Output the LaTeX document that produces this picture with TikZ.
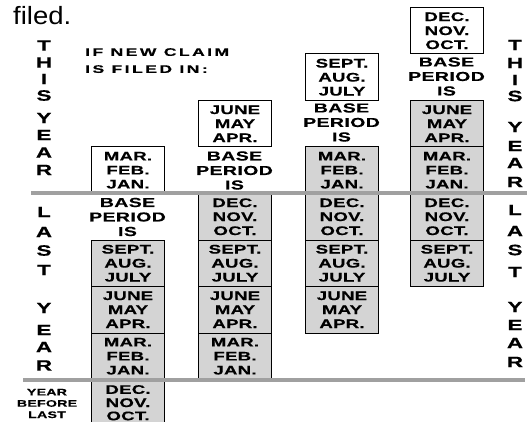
\documentclass[tikz,border=0pt]{standalone}
\usepackage{fontspec}
\setmainfont{Liberation Sans}
\newfontfamily\bxfont{Liberation Sans}[FakeStretch=1.5,LetterSpace=2,FakeBold=0.4]
\newfontfamily\basefont{Liberation Sans}[FakeStretch=1.5,LetterSpace=3,FakeBold=0.4]
\newfontfamily\iffont{Liberation Sans}[FakeStretch=1.6,LetterSpace=22,FakeBold=0.4]
\newfontfamily\topfont{Liberation Sans}[FakeStretch=1.1]
\definecolor{rulegray}{HTML}{A0A0A0}
\definecolor{cellgray}{HTML}{D4D4D4}
\begin{document}
\begin{tikzpicture}[x=1pt,y=-1pt,
  cellbase/.style={draw=black, line width=1pt, minimum width=73pt, minimum height=46.5pt,
    inner sep=0pt, align=center, anchor=north west,
    font=\bxfont\bfseries\fontsize{12.4}{14}\selectfont},
  openbox/.style={cellbase, fill=white},
  shadebox/.style={cellbase, fill=cellgray},
  baselabel/.style={inner sep=0pt, align=center, font=\basefont\bfseries\fontsize{13}{14.5}\selectfont},
  vletter/.style={inner sep=0pt, font=\bxfont\bfseries\fontsize{15}{15}\selectfont},
  rulestyle/.style={draw=rulegray, line width=4pt}]
\useasboundingbox (0,0) rectangle (530,422);
% title fragment
\node[anchor=base west, inner sep=0pt, font=\topfont\fontsize{25}{25}\selectfont] (filed) at (13,25) {filed.};
\node[anchor=north west, inner sep=0pt, align=left, font=\iffont\bfseries\fontsize{11}{17}\selectfont] (ifnew) at (85,48) {IF NEW CLAIM\\IS FILED IN:};
% column 1
\node[openbox] (c1w) at (91,146.5) {MAR.\\FEB.\\JAN.};
\node[baselabel] (c1b) at (127.5,217) {BASE\\PERIOD\\IS};
\node[shadebox] (c1g1) at (91,239.5) {SEPT.\\AUG.\\JULY};
\node[shadebox] (c1g2) at (91,286) {JUNE\\MAY\\APR.};
\node[shadebox] (c1g3) at (91,332.5) {MAR.\\FEB.\\JAN.};
\node[shadebox, font=\bxfont\bfseries\fontsize{12.4}{13.2}\selectfont] (c1g4) at (91,379) {DEC.\\NOV.\\OCT.};
% column 2
\node[openbox] (c2w) at (198,100) {JUNE\\MAY\\APR.};
\node[baselabel] (c2b) at (234.5,170.5) {BASE\\PERIOD\\IS};
\node[shadebox] (c2g1) at (198,193) {DEC.\\NOV.\\OCT.};
\node[shadebox] (c2g2) at (198,239.5) {SEPT.\\AUG.\\JULY};
\node[shadebox] (c2g3) at (198,286) {JUNE\\MAY\\APR.};
\node[shadebox] (c2g4) at (198,332.5) {MAR.\\FEB.\\JAN.};
% column 3
\node[openbox] (c3w) at (305,53.5) {SEPT.\\AUG.\\JULY};
\node[baselabel] (c3b) at (341.5,122.5) {BASE\\PERIOD\\IS};
\node[shadebox] (c3g1) at (305,146.5) {MAR.\\FEB.\\JAN.};
\node[shadebox] (c3g2) at (305,193) {DEC.\\NOV.\\OCT.};
\node[shadebox] (c3g3) at (305,239.5) {SEPT.\\AUG.\\JULY};
\node[shadebox] (c3g4) at (305,286) {JUNE\\MAY\\APR.};
% column 4
\node[openbox] (c4w) at (410,7) {DEC.\\NOV.\\OCT.};
\node[baselabel] (c4b) at (446.5,76.5) {BASE\\PERIOD\\IS};
\node[shadebox] (c4g1) at (410,100) {JUNE\\MAY\\APR.};
\node[shadebox] (c4g2) at (410,146.5) {MAR.\\FEB.\\JAN.};
\node[shadebox] (c4g3) at (410,193) {DEC.\\NOV.\\OCT.};
\node[shadebox] (c4g4) at (410,239.5) {SEPT.\\AUG.\\JULY};
% year rules
\coordinate (r1a) at (31,193);
\coordinate (r1b) at (527,193);
\coordinate (r2a) at (23,379.5);
\coordinate (r2b) at (525,379.5);
\draw[rulestyle] (r1a) -- (r1b);
\draw[rulestyle] (r2a) -- (r2b);
% left vertical labels
\foreach \ch/\yy [count=\i] in {T/45.5,H/62.5,I/79,S/95.5,Y/118,E/135,A/152.5,R/170}
  \node[vletter] (lt\i) at (44,\yy) {\ch};
\foreach \ch/\yy [count=\i] in {L/212,A/232,S/250.5,T/270,Y/308,E/330,A/347,R/365.5}
  \node[vletter] (ll\i) at (44,\yy) {\ch};
% right vertical labels
\foreach \ch/\yy [count=\i] in {T/45,H/63,I/80,S/96,Y/127,E/146,A/163,R/182}
  \node[vletter] (rt\i) at (515,\yy) {\ch};
\foreach \ch/\yy [count=\i] in {L/210,A/231,S/250,T/272,Y/307,E/325,A/343,R/362}
  \node[vletter] (rl\i) at (515,\yy) {\ch};
% year before last
\node[inner sep=0pt, align=center, font=\bxfont\bfseries\fontsize{9.5}{11.3}\selectfont] (ybl) at (47,403.5) {YEAR\\BEFORE\\LAST};
\end{tikzpicture}
\end{document}
